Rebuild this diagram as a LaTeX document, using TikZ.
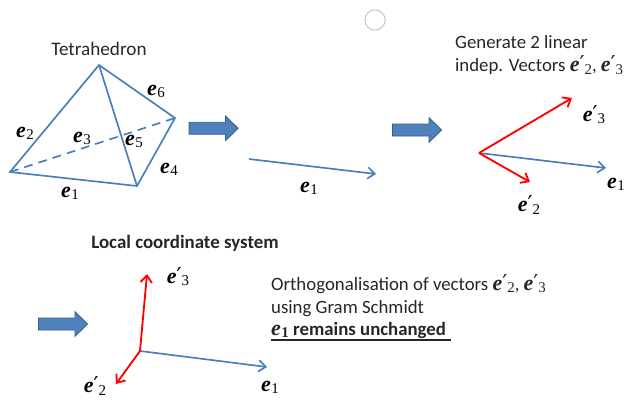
\documentclass[tikz,border=0pt]{standalone}
\usepackage{fontspec}
\setmainfont{Carlito}
\newfontfamily\vecfont{Liberation Serif}
\newfontfamily\primefont{DejaVu Sans}
\usepackage{tikz}
\usetikzlibrary{arrows.meta,positioning}
\definecolor{edgeblue}{RGB}{74,126,187}
\definecolor{arrowfill}{RGB}{79,129,189}
\definecolor{arrowline}{RGB}{56,93,138}
\definecolor{vecred}{RGB}{255,0,0}
\definecolor{ringgray}{RGB}{190,190,205}
\newcommand{\ev}[1]{{\vecfont\bfseries\itshape\fontsize{25}{25}\selectfont e}{\kern0.03em\vecfont\fontsize{17}{17}\selectfont\raisebox{-0.3ex}{#1}}}
\newcommand{\evp}[1]{{\vecfont\bfseries\itshape\fontsize{25}{25}\selectfont e}{\primefont\fontsize{25}{25}\selectfont\char"2032}{\vecfont\fontsize{17}{17}\selectfont\raisebox{-0.3ex}{#1}}}
\tikzset{
  edge/.style={edgeblue, line width=1.9pt},
  bluevec/.style={edge, -{Straight Barb[length=8pt,width=13pt]}},
  redvec/.style={vecred, line width=2.1pt, -{Straight Barb[length=8pt,width=13pt]}},
  blockarrow/.pic={
    \draw[draw=arrowline, fill=arrowfill, line width=1pt]
      (-24.5,-6)--(12,-6)--(12,-12.3)--(24.5,0)--(12,12.3)--(12,6)--(-24.5,6)--cycle;
  },
  veclabel/.style={font=\fontsize{23}{23}\selectfont, inner sep=0pt},
  txt/.style={font=\fontsize{21.8}{27}\selectfont, inner sep=0pt, align=left, text=black!85},
}

\begin{document}
\begin{tikzpicture}[x=0.04cm, y=-0.04cm]
  \useasboundingbox (0,0) rectangle (624,399);
  \node[circle, draw=ringgray, line width=1pt, minimum size=23pt, inner sep=0pt] (ring) at (375,20) {};
  % Tetrahedron
  \node[txt] (title) at (99,49) {Tetrahedron};
  \coordinate (apex) at (99,65);
  \coordinate (left) at (10,172);
  \coordinate (bottom) at (137,186);
  \coordinate (right) at (175,118);
  \draw[edge] (left)--(apex)--(right)--(bottom)--cycle;
  \draw[edge] (apex)--(bottom);
  \draw[edge, dash pattern=on 10pt off 7pt] (left)--(right);
  \node[veclabel] (e1) at (70,193) {\ev{1}};
  \node[veclabel] (e2) at (25,133) {\ev{2}};
  \node[veclabel] (e3) at (82,138) {\ev{3}};
  \node[veclabel] (e4) at (169,169) {\ev{4}};
  \node[veclabel] (e5) at (134,141) {\ev{5}};
  \node[veclabel] (e6) at (156,91) {\ev{6}};
  % Block arrows
  \pic at (213.5,128.3) {blockarrow};
  \pic at (417,130) {blockarrow};
  \pic at (63,324) {blockarrow};
  % First vector
  \coordinate (a0) at (249,159);
  \coordinate (a1) at (376,174);
  \draw[bluevec] (a0)--(a1);
  \node[veclabel] (a1label) at (309,188) {\ev{1}};
  % Linearly independent vectors
  \node[txt, anchor=north west, font=\fontsize{21.4}{27}\selectfont] (gen) at (455,35) {Generate 2 linear\\indep. Vectors \evp{2}, \evp{3}};
  \coordinate (b0) at (479,153);
  \coordinate (b1) at (606,168);
  \coordinate (b2) at (530,182);
  \coordinate (b3) at (572,98);
  \draw[bluevec] (b0)--(b1);
  \draw[redvec] (b0)--(b2);
  \draw[redvec] (b0)--(b3);
  \node[veclabel] (b1label) at (616,184) {\ev{1}};
  \node[veclabel] (b2label) at (529,205) {\evp{2}};
  \node[veclabel] (b3label) at (594,115) {\evp{3}};
  % Local coordinate system
  \node[txt, font=\fontsize{21.5}{27}\selectfont\bfseries] (local) at (185,243) {Local coordinate system};
  \coordinate (c0) at (140,351);
  \coordinate (c1) at (267,367);
  \coordinate (c2) at (116,384);
  \coordinate (c3) at (147,274);
  \draw[bluevec] (c0)--(c1);
  \draw[redvec] (c0)--(c2);
  \draw[redvec] (c0)--(c3);
  \node[veclabel] (c1label) at (270,387) {\ev{1}};
  \node[veclabel] (c2label) at (95,386) {\evp{2}};
  \node[veclabel] (c3label) at (178,277) {\evp{3}};
  % Gram Schmidt text
  \node[txt, anchor=north west, font=\fontsize{21.4}{26}\selectfont] (orth) at (271,274)
    {Orthogonalisation of vectors \evp{2}, \evp{3}\\using Gram Schmidt\\\textbf{\ev{1} remains unchanged}};
  \draw[black!85, line width=1.2pt] (271,340)--(451,340);
\end{tikzpicture}
\end{document}
